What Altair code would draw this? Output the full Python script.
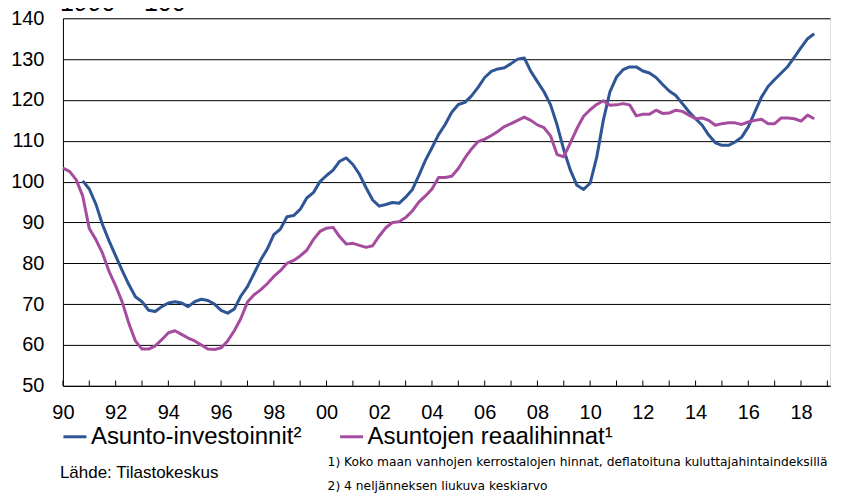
import altair as alt
import pandas as pd

# Quarterly data, 1990Q1 ... 2018Q3
series_names = ["Asunto-investoinnit²", "Asuntojen reaalihinnat¹"]
series_colors = ["#2E5594", "#A64C9E"]

# Asuntojen reaalihinnat (1990Q1 -> 2018Q3)
hinnat = [
    103.3, 102.5, 100.5, 96.5,
    88.5, 85.8, 82.5, 78.0,
    74.5, 70.5, 65.3, 61.0,
    59.0, 59.0, 59.8, 61.3,
    63.0, 63.5, 62.6, 61.7,
    61.0, 60.0, 59.0, 58.9,
    59.3, 61.0, 63.5, 66.5,
    70.5, 72.3, 73.5, 75.0,
    76.8, 78.2, 80.0, 80.7,
    81.8, 83.2, 85.8, 87.8,
    88.6, 88.8, 86.5, 84.7,
    84.9, 84.4, 83.9, 84.3,
    86.7, 88.7, 90.0, 90.2,
    91.2, 92.8, 95.0, 96.5,
    98.2, 101.0, 101.0, 101.3,
    103.2, 105.8, 108.0, 109.8,
    110.4, 111.3, 112.3, 113.5,
    114.2, 115.0, 115.8, 115.0,
    113.9, 113.2, 111.2, 106.6,
    106.1, 109.5, 113.0, 116.0,
    117.6, 118.9, 119.8, 118.7,
    118.8, 119.1, 118.8, 116.1,
    116.5, 116.5, 117.5, 116.7,
    116.8, 117.5, 117.2, 116.3,
    115.4, 115.6, 115.0, 113.8,
    114.2, 114.4, 114.4, 114.0,
    114.6, 115.0, 115.3, 114.2,
    114.2, 115.6, 115.6, 115.4,
    114.8, 116.3, 115.4,
]

# Asunto-investoinnit, 4 quarter moving average (1990Q4 -> 2018Q3)
investoinnit = [
    100.2,
    98.2, 94.5, 89.5, 85.5,
    81.8, 78.2, 74.8, 71.8,
    70.6, 68.5, 68.2, 69.4,
    70.3, 70.6, 70.3, 69.4,
    70.6, 71.2, 70.9, 70.0,
    68.5, 67.8, 68.8, 72.0,
    74.3, 77.5, 80.8, 83.5,
    87.0, 88.4, 91.4, 91.7,
    93.2, 96.0, 97.3, 100.0,
    101.5, 102.8, 105.0, 105.8,
    104.2, 101.8, 98.5, 95.5,
    94.0, 94.4, 94.9, 94.7,
    96.2, 98.0, 101.5, 105.2,
    108.3, 111.5, 114.0, 117.0,
    118.9, 119.4, 121.0, 123.1,
    125.5, 127.0, 127.6, 127.9,
    128.9, 130.0, 130.3, 127.0,
    124.5, 122.0, 118.8, 113.8,
    107.8, 102.8, 99.1, 98.1,
    99.6, 106.0, 115.0, 122.0,
    125.6, 127.4, 128.1, 128.1,
    127.1, 126.6, 125.5, 123.8,
    122.2, 121.1, 119.1, 117.1,
    115.4, 113.8, 111.4, 109.5,
    108.9, 108.9, 109.7, 110.9,
    113.4, 117.1, 120.7, 123.3,
    125.0, 126.6, 128.2, 130.5,
    132.8, 135.0, 136.2,
]

tick_years = list(range(1990, 2020))
y_ticks = list(range(50, 141, 10))

rows = []
for i, v in enumerate(investoinnit):
    rows.append({"t": 1990 + (i + 3) / 4, "value": v, "sarja": series_names[0], "o": 0})
for i, v in enumerate(hinnat):
    rows.append({"t": 1990 + i / 4, "value": v, "sarja": series_names[1], "o": 1})
df = pd.DataFrame(rows)

ticks_df = pd.DataFrame({"year": tick_years, "y0": [50] * len(tick_years), "y1": [51.3] * len(tick_years)})

W, H = 768, 368
FONT = "Liberation Sans"
NOTE_FONT = "DejaVu Sans"

x_scale = alt.Scale(domain=[1990, 2019.1], nice=False, zero=False)
y_scale = alt.Scale(domain=[50, 140], nice=False, zero=False)

lines = alt.Chart(df).mark_line(strokeWidth=3, strokeJoin="round").encode(
    x=alt.X("t:Q", scale=x_scale, title=None,
            axis=alt.Axis(values=tick_years, grid=False, ticks=False,
                          labelExpr="datum.value % 2 == 0 ? slice(toString(datum.value), 2) : ''",
                          labelFontSize=20, labelFont=FONT, labelColor="black",
                          labelPadding=17, labelFlush=False, labelOverlap=False,
                          domainColor="black", domainWidth=1)),
    y=alt.Y("value:Q", scale=y_scale, title=None,
            axis=alt.Axis(values=y_ticks, grid=True, gridColor="black", gridWidth=1,
                          ticks=False, labelFontSize=20, labelFont=FONT, labelColor="black",
                          labelPadding=19, domainColor="black", domainWidth=1)),
    color=alt.Color("sarja:N", scale=alt.Scale(domain=series_names, range=series_colors),
                    legend=alt.Legend(title=None, orient="none", legendX=-1, legendY=406,
                                      direction="horizontal", symbolType="stroke",
                                      symbolSize=529, symbolStrokeWidth=3,
                                      labelFontSize=24, labelFont=FONT, labelColor="black",
                                      labelOffset=3, columnPadding=32, gridAlign="none",
                                      padding=0, labelLimit=400)),
    order="o:Q",
)

tick_marks = alt.Chart(ticks_df).mark_rule(color="black", strokeWidth=1).encode(
    x=alt.X("year:Q", scale=x_scale),
    y=alt.Y("y0:Q", scale=y_scale),
    y2="y1:Q",
)

def label(text, x, y, size, font=FONT, align="left"):
    return alt.Chart(pd.DataFrame({"txt": [text]})).mark_text(
        align=align, baseline="alphabetic", fontSize=size, font=font, color="black"
    ).encode(text="txt:N", x=alt.value(x), y=alt.value(y))

title_txt = label("1990 = 100", -3, -7, 25)
source_txt = label("Lähde: Tilastokeskus", -3, 460, 17)
note1 = label("1) Koko maan vanhojen kerrostalojen hinnat, deflatoituna kuluttajahintaindeksillä",
              265, 448.5, 12.3, font=NOTE_FONT)
note2 = label("2) 4 neljänneksen liukuva keskiarvo", 265, 472, 12.3, font=NOTE_FONT)

chart = alt.layer(lines, tick_marks, title_txt, source_txt, note1, note2).properties(
    width=W, height=H,
    padding={"left": 55, "top": 10, "right": 8, "bottom": 109},
    autosize=alt.AutoSizeParams(type="none"),
).configure_view(stroke="black", strokeWidth=1).configure(background="white")

chart.save("out.html", embed_options={"renderer": "svg", "actions": False})
